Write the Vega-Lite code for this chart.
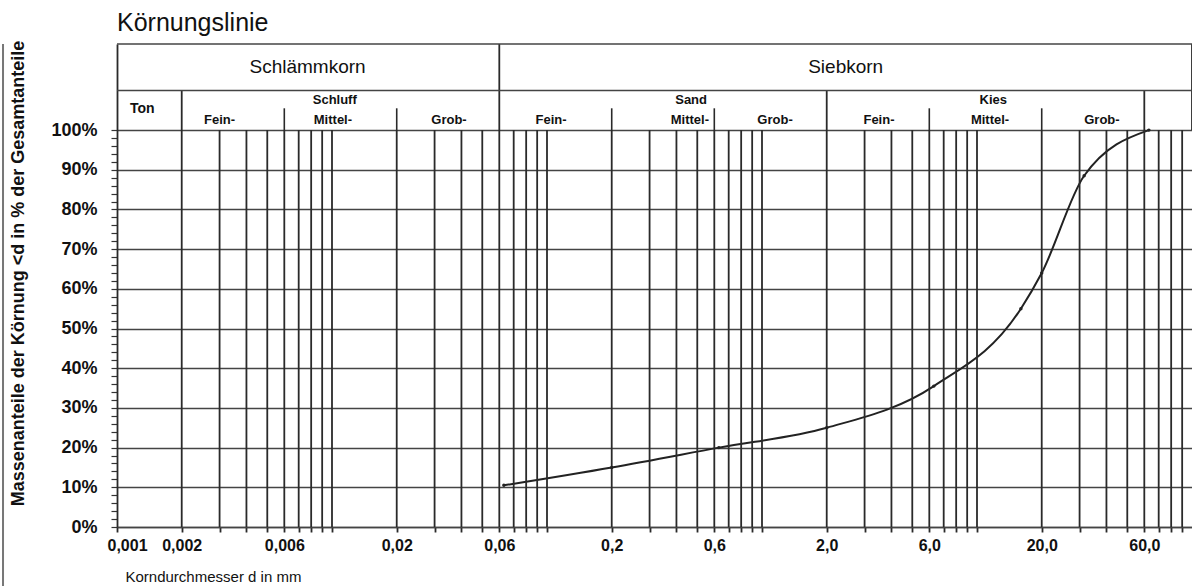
{
  "$schema": "https://vega.github.io/schema/vega-lite/v6.json",
  "width": 1075,
  "height": 483,
  "autosize": {"type": "none"},
  "padding": {"left": 117, "top": 44, "right": 0, "bottom": 59},
  "background": "white",
  "config": {"view": {"stroke": null}, "font": "Liberation Sans"},
  "title": {"text": "Körnungslinie", "anchor": "start", "frame": "group", "fontSize": 25, "fontWeight": "normal", "font": "Liberation Sans", "color": "#111", "offset": 4},
  "datasets": {
    "curve": [
      {"d": 0.063, "p": 10.5},
      {"d": 0.2, "p": 15},
      {"d": 0.63, "p": 20},
      {"d": 2, "p": 25},
      {"d": 6.3, "p": 35.5},
      {"d": 16, "p": 55},
      {"d": 20, "p": 64},
      {"d": 31.5, "p": 88.5},
      {"d": 63, "p": 100}
    ],
    "grid": [
      {"d": 0.002}, {"d": 0.003}, {"d": 0.004}, {"d": 0.005}, {"d": 0.006}, {"d": 0.007}, {"d": 0.008}, {"d": 0.009}, {"d": 0.01},
      {"d": 0.02}, {"d": 0.03}, {"d": 0.04}, {"d": 0.05}, {"d": 0.06}, {"d": 0.07}, {"d": 0.08}, {"d": 0.09}, {"d": 0.1},
      {"d": 0.2}, {"d": 0.3}, {"d": 0.4}, {"d": 0.5}, {"d": 0.6}, {"d": 0.7}, {"d": 0.8}, {"d": 0.9}, {"d": 1},
      {"d": 2}, {"d": 3}, {"d": 4}, {"d": 5}, {"d": 6}, {"d": 7}, {"d": 8}, {"d": 9}, {"d": 10},
      {"d": 20}, {"d": 30}, {"d": 40}, {"d": 50}, {"d": 60}, {"d": 70}, {"d": 80}, {"d": 90}
    ],
    "rowDividers": [{"d": 0.002}, {"d": 2}, {"d": 60}],
    "fullDividers": [{"d": 0.06}, {"d": 100}],
    "shortTicks": [{"d": 0.006}, {"d": 0.02}, {"d": 0.2}, {"d": 0.6}, {"d": 6}, {"d": 20}],
    "labels": [
      {"t": "Schlämmkorn", "d": 0.0077, "kind": "main"},
      {"t": "Siebkorn", "d": 2.45, "kind": "main"},
      {"t": "Schluff", "d": 0.0103, "kind": "group"},
      {"t": "Sand", "d": 0.468, "kind": "group"},
      {"t": "Kies", "d": 11.9, "kind": "group"},
      {"t": "Fein-", "d": 0.003, "kind": "sub"},
      {"t": "Mittel-", "d": 0.0101, "kind": "sub"},
      {"t": "Grob-", "d": 0.035, "kind": "sub"},
      {"t": "Fein-", "d": 0.1044, "kind": "sub"},
      {"t": "Mittel-", "d": 0.462, "kind": "sub"},
      {"t": "Grob-", "d": 1.15, "kind": "sub"},
      {"t": "Fein-", "d": 3.5, "kind": "sub"},
      {"t": "Mittel-", "d": 11.5, "kind": "sub"},
      {"t": "Grob-", "d": 38.1, "kind": "sub"},
      {"t": "Ton", "d": 0.00131, "kind": "ton"}
    ],
    "border": [{"d": 0.000295}]
  },
  "layer": [
    {
      "data": {"name": "curve"},
      "mark": {"type": "line", "interpolate": "monotone", "color": "#222", "strokeWidth": 2},
      "encoding": {
        "x": {
          "field": "d", "type": "quantitative",
          "scale": {"type": "log", "domain": [0.001, 100], "nice": false},
          "axis": {
            "values": [0.001, 0.002, 0.003, 0.004, 0.005, 0.006, 0.007, 0.008, 0.009, 0.01, 0.02, 0.03, 0.04, 0.05, 0.06, 0.07, 0.08, 0.09, 0.1, 0.2, 0.3, 0.4, 0.5, 0.6, 0.7, 0.8, 0.9, 1, 2, 3, 4, 5, 6, 7, 8, 9, 10, 20, 30, 40, 50, 60, 70, 80, 90],
            "tickCount": 200,
            "labelExpr": "indexof([0.001,0.002,0.006,0.02,0.06,0.2,0.6,2,6,20,60], datum.value) < 0 ? '' : (datum.value >= 1 ? replace(format(datum.value, '.1f'), '.', ',') : replace(format(datum.value, '~r'), '.', ','))",
            "labelFlush": false,
            "labelOffset": {"condition": {"test": "datum.value < 0.0015", "value": 10}, "value": 0},
            "grid": false, "domain": true, "domainColor": "#444", "domainWidth": 1.5,
            "ticks": true, "tickSize": 5, "tickColor": "#2a2a2a", "tickWidth": 1.8,
            "labelFont": "Liberation Sans", "labelFontWeight": "bold", "labelFontSize": 16, "labelColor": "#111", "labelPadding": 5, "labelOverlap": false,
            "title": "Korndurchmesser d in mm", "titleFont": "Liberation Sans", "titleFontSize": 15, "titleFontWeight": "normal", "titleColor": "#111",
            "titleX": 8, "titleY": 49, "titleAlign": "left", "titleBaseline": "middle", "titleAngle": 0
          }
        },
        "y": {
          "field": "p", "type": "quantitative",
          "scale": {"domain": [0, 121.7], "nice": false, "zero": false},
          "axis": {
            "values": [0, 2, 4, 6, 8, 10, 12, 14, 16, 18, 20, 22, 24, 26, 28, 30, 32, 34, 36, 38, 40, 42, 44, 46, 48, 50, 52, 54, 56, 58, 60, 62, 64, 66, 68, 70, 72, 74, 76, 78, 80, 82, 84, 86, 88, 90, 92, 94, 96, 98, 100],
            "tickCount": 200,
            "labelExpr": "datum.value % 10 === 0 ? datum.value + '%' : ''",
            "grid": true, "gridColor": "#444", "gridWidth": 1.5,
            "gridOpacity": {"condition": {"test": "datum.value % 10 === 0", "value": 1}, "value": 0},
            "domain": true, "domainColor": "#2a2a2a", "domainWidth": 1.8,
            "tickSize": 6, "tickColor": "#333", "tickWidth": 1.2,
            "labelFont": "Liberation Sans", "labelFontSize": 18, "labelFontWeight": "bold", "labelColor": "#111", "labelPadding": 14, "labelOverlap": false,
            "title": "Massenanteile der Körnung <d in % der Gesamtanteile", "titleFont": "Liberation Sans", "titleFontSize": 18, "titleFontWeight": "bold", "titleColor": "#111",
            "titleX": -99, "titleY": 229, "titleAngle": -90, "titleAlign": "center", "titleBaseline": "middle"
          }
        }
      }
    },
    {
      "data": {"name": "grid"},
      "mark": {"type": "rule", "color": "#2a2a2a", "strokeWidth": 1.8},
      "encoding": {
        "x": {"field": "d", "type": "quantitative", "scale": {"type": "log", "domain": [0.001, 100], "nice": false}},
        "y": {"datum": 0, "type": "quantitative", "scale": {"domain": [0, 121.7], "nice": false, "zero": false}},
        "y2": {"datum": 100}
      }
    },
    {
      "data": {"name": "rowDividers"},
      "mark": {"type": "rule", "color": "#2a2a2a", "strokeWidth": 1.8},
      "encoding": {
        "x": {"field": "d", "type": "quantitative", "scale": {"type": "log", "domain": [0.001, 100], "nice": false}},
        "y": {"datum": 110, "type": "quantitative", "scale": {"domain": [0, 121.7], "nice": false, "zero": false}},
        "y2": {"datum": 100}
      }
    },
    {
      "data": {"name": "fullDividers"},
      "mark": {"type": "rule", "color": "#2a2a2a", "strokeWidth": 1.8},
      "encoding": {
        "x": {"field": "d", "type": "quantitative", "scale": {"type": "log", "domain": [0.001, 100], "nice": false}},
        "y": {"datum": 121.7, "type": "quantitative", "scale": {"domain": [0, 121.7], "nice": false, "zero": false}},
        "y2": {"datum": 100}
      }
    },
    {
      "data": {"name": "shortTicks"},
      "mark": {"type": "rule", "color": "#2a2a2a", "strokeWidth": 1.6},
      "encoding": {
        "x": {"field": "d", "type": "quantitative", "scale": {"type": "log", "domain": [0.001, 100], "nice": false}},
        "y": {"datum": 105.5, "type": "quantitative", "scale": {"domain": [0, 121.7], "nice": false, "zero": false}},
        "y2": {"datum": 100}
      }
    },
    {
      "data": {"values": [{"h": 121.7}, {"h": 110}]},
      "mark": {"type": "rule", "color": "#444", "strokeWidth": 1.6},
      "encoding": {
        "y": {"field": "h", "type": "quantitative", "scale": {"domain": [0, 121.7], "nice": false, "zero": false}},
        "x": {"datum": 0.001, "type": "quantitative", "scale": {"type": "log", "domain": [0.001, 100], "nice": false}},
        "x2": {"datum": 100}
      }
    },
    {
      "data": {"name": "border"},
      "mark": {"type": "rule", "color": "#777", "strokeWidth": 2, "clip": false},
      "encoding": {
        "x": {"field": "d", "type": "quantitative", "scale": {"type": "log", "domain": [0.001, 100], "nice": false}},
        "y": {"datum": -15, "type": "quantitative", "scale": {"domain": [0, 121.7], "nice": false, "zero": false}},
        "y2": {"datum": 121.7}
      }
    },
    {
      "data": {"name": "labels"},
      "transform": [{"filter": "datum.kind === 'main'"}],
      "mark": {"type": "text", "fontSize": 19, "font": "Liberation Sans", "color": "#111", "align": "center", "baseline": "middle"},
      "encoding": {
        "x": {"field": "d", "type": "quantitative", "scale": {"type": "log", "domain": [0.001, 100], "nice": false}},
        "y": {"datum": 115.9, "type": "quantitative", "scale": {"domain": [0, 121.7], "nice": false, "zero": false}},
        "text": {"field": "t"}
      }
    },
    {
      "data": {"name": "labels"},
      "transform": [{"filter": "datum.kind === 'group'"}],
      "mark": {"type": "text", "fontSize": 13, "fontWeight": "bold", "font": "Liberation Sans", "color": "#111", "align": "center", "baseline": "middle"},
      "encoding": {
        "x": {"field": "d", "type": "quantitative", "scale": {"type": "log", "domain": [0.001, 100], "nice": false}},
        "y": {"datum": 107.6, "type": "quantitative", "scale": {"domain": [0, 121.7], "nice": false, "zero": false}},
        "text": {"field": "t"}
      }
    },
    {
      "data": {"name": "labels"},
      "transform": [{"filter": "datum.kind === 'sub'"}],
      "mark": {"type": "text", "fontSize": 13, "fontWeight": "bold", "font": "Liberation Sans", "color": "#111", "align": "center", "baseline": "middle"},
      "encoding": {
        "x": {"field": "d", "type": "quantitative", "scale": {"type": "log", "domain": [0.001, 100], "nice": false}},
        "y": {"datum": 102.6, "type": "quantitative", "scale": {"domain": [0, 121.7], "nice": false, "zero": false}},
        "text": {"field": "t"}
      }
    },
    {
      "data": {"name": "labels"},
      "transform": [{"filter": "datum.kind === 'ton'"}],
      "mark": {"type": "text", "fontSize": 14, "fontWeight": "bold", "font": "Liberation Sans", "color": "#111", "align": "center", "baseline": "middle"},
      "encoding": {
        "x": {"field": "d", "type": "quantitative", "scale": {"type": "log", "domain": [0.001, 100], "nice": false}},
        "y": {"datum": 105.2, "type": "quantitative", "scale": {"domain": [0, 121.7], "nice": false, "zero": false}},
        "text": {"field": "t"}
      }
    },
    {
      "data": {"name": "curve"},
      "mark": {"type": "circle", "size": 12, "color": "#222", "opacity": 1},
      "encoding": {
        "x": {"field": "d", "type": "quantitative", "scale": {"type": "log", "domain": [0.001, 100], "nice": false}},
        "y": {"field": "p", "type": "quantitative", "scale": {"domain": [0, 121.7], "nice": false, "zero": false}}
      }
    }
  ]
}
